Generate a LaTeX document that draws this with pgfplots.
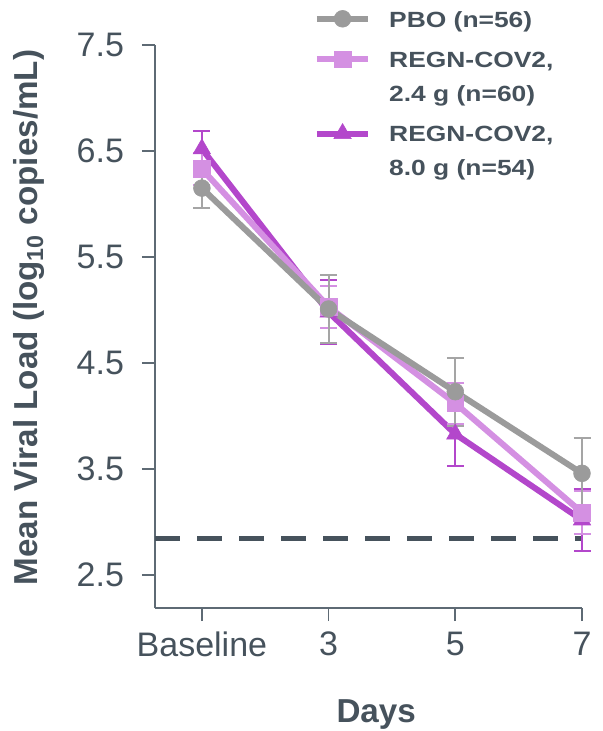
\documentclass[border=0pt]{standalone}
\usepackage{pgfplots}
\pgfplotsset{compat=1.18}
\usepackage{fontspec}
\setmainfont{Liberation Sans}
\newfontfamily\legfont[FakeStretch=1.2]{Liberation Sans}
\definecolor{pbo}{HTML}{9B9B9B}
\definecolor{lowd}{HTML}{D490E2}
\definecolor{highd}{HTML}{B347CB}
\definecolor{txt}{HTML}{46525C}
\definecolor{axc}{HTML}{5E6A74}
\newcommand{\lt}[1]{\begin{tabular}[b]{@{}l@{}}#1\end{tabular}}
\begin{document}
\begin{tikzpicture}
\useasboundingbox (-77.5pt,-61.5pt) rectangle (223.5pt,304pt);
\begin{axis}[
  at={(0,0)}, anchor=south west,
  scale only axis, width=213.5pt, height=281.5pt,
  xmin=-0.37, xmax=3, ymin=2.19, ymax=7.5,
  axis x line*=bottom, axis y line*=left,
  axis line style={axc, line width=0.8pt},
  xtick={0,1,2,3}, xticklabels={Baseline,3,5,7},
  ytick={2.5,3.5,4.5,5.5,6.5,7.5},
  tick align=outside, major tick length=6.5pt,
  tick style={axc, line width=0.8pt},
  ticklabel style={font=\fontsize{17}{20}\selectfont, text=txt},
  yticklabel style={xshift=-5.5pt, /pgf/number format/.cd, fixed, fixed zerofill, precision=1, assume math mode=true},
  xticklabel style={yshift=-2pt},
  xlabel={\textbf{Days}},
  ylabel={\textbf{Mean Viral Load (log\textsubscript{10} copies/mL)}},
  label style={font=\fontsize{16.6}{19}\selectfont, text=txt},
  xlabel style={at={(axis description cs:0.518,-0.204)}, anchor=base},
  ylabel style={at={(axis description cs:-0.274,0.516)}, anchor=base},
  clip=false,
  reverse legend,
  legend cell align=left,
  legend image code/.code={\draw[mark repeat=2,mark phase=2] plot coordinates {(0cm,4.1pt)(0.45cm,4.1pt)(0.9cm,4.1pt)};},
  legend style={draw=none, fill=none, inner sep=0pt, outer sep=0pt,
    at={(axis description cs:0.3723,1.0742)}, anchor=north west,
    row sep=6.8pt, column sep=9pt,
    font=\legfont\bfseries\fontsize{11}{17}\selectfont, text=txt,
    cells={anchor=base west},
    nodes={inner sep=0pt}},
]
% threshold (dashed)
\addplot[forget plot, draw=txt, line width=2.5pt, dash pattern=on 12.5pt off 8.5pt] coordinates {(-0.37,2.85) (3,2.85)};

\addplot[highd, line width=3pt, mark=triangle*, mark size=5pt,
  mark options={solid, line width=0.3pt, fill=highd, draw=highd},
  legend image code/.code={\draw[mark repeat=2,mark phase=2] plot coordinates {(0cm,21.1pt)(0.45cm,21.1pt)(0.9cm,21.1pt)};},
  error bars/.cd, y dir=both, y explicit,
  error bar style={line width=1pt, highd},
  error mark options={rotate=90, line width=1pt, mark size=4.25pt, highd}]
  coordinates {(0,6.52) +- (0,0.17) (1,4.98) +- (0,0.30) (2,3.83) +- (0,0.30) (3,3.02) +- (0,0.29)};
\addlegendentry{\lt{REGN-COV2,\\8.0 g (n=54)}}

\addplot[lowd, line width=3pt, mark=square*, mark size=4.2pt,
  mark options={solid, line width=0.3pt, fill=lowd, draw=lowd},
  legend image code/.code={\draw[mark repeat=2,mark phase=2] plot coordinates {(0cm,21.1pt)(0.45cm,21.1pt)(0.9cm,21.1pt)};},
  error bars/.cd, y dir=both, y explicit,
  error bar style={line width=1pt, lowd},
  error mark options={rotate=90, line width=1pt, mark size=4.25pt, lowd}]
  coordinates {(0,6.33) +- (0,0.15) (1,5.03) +- (0,0.20) (2,4.12) +- (0,0.19) (3,3.09) +- (0,0.20)};
\addlegendentry{\lt{REGN-COV2,\\2.4 g (n=60)}}

\addplot[pbo, line width=3pt, mark=*, mark size=4.2pt,
  mark options={solid, line width=0.3pt, fill=pbo, draw=pbo},
  error bars/.cd, y dir=both, y explicit,
  error bar style={line width=1pt, pbo!90},
  error mark options={rotate=90, line width=1pt, mark size=4.25pt, pbo!90}]
  coordinates {(0,6.15) +- (0,0.19) (1,5.01) +- (0,0.32) (2,4.23) +- (0,0.32) (3,3.46) +- (0,0.33)};
\addlegendentry{\lt{PBO (n=56)}}
\end{axis}
\end{tikzpicture}
\end{document}
